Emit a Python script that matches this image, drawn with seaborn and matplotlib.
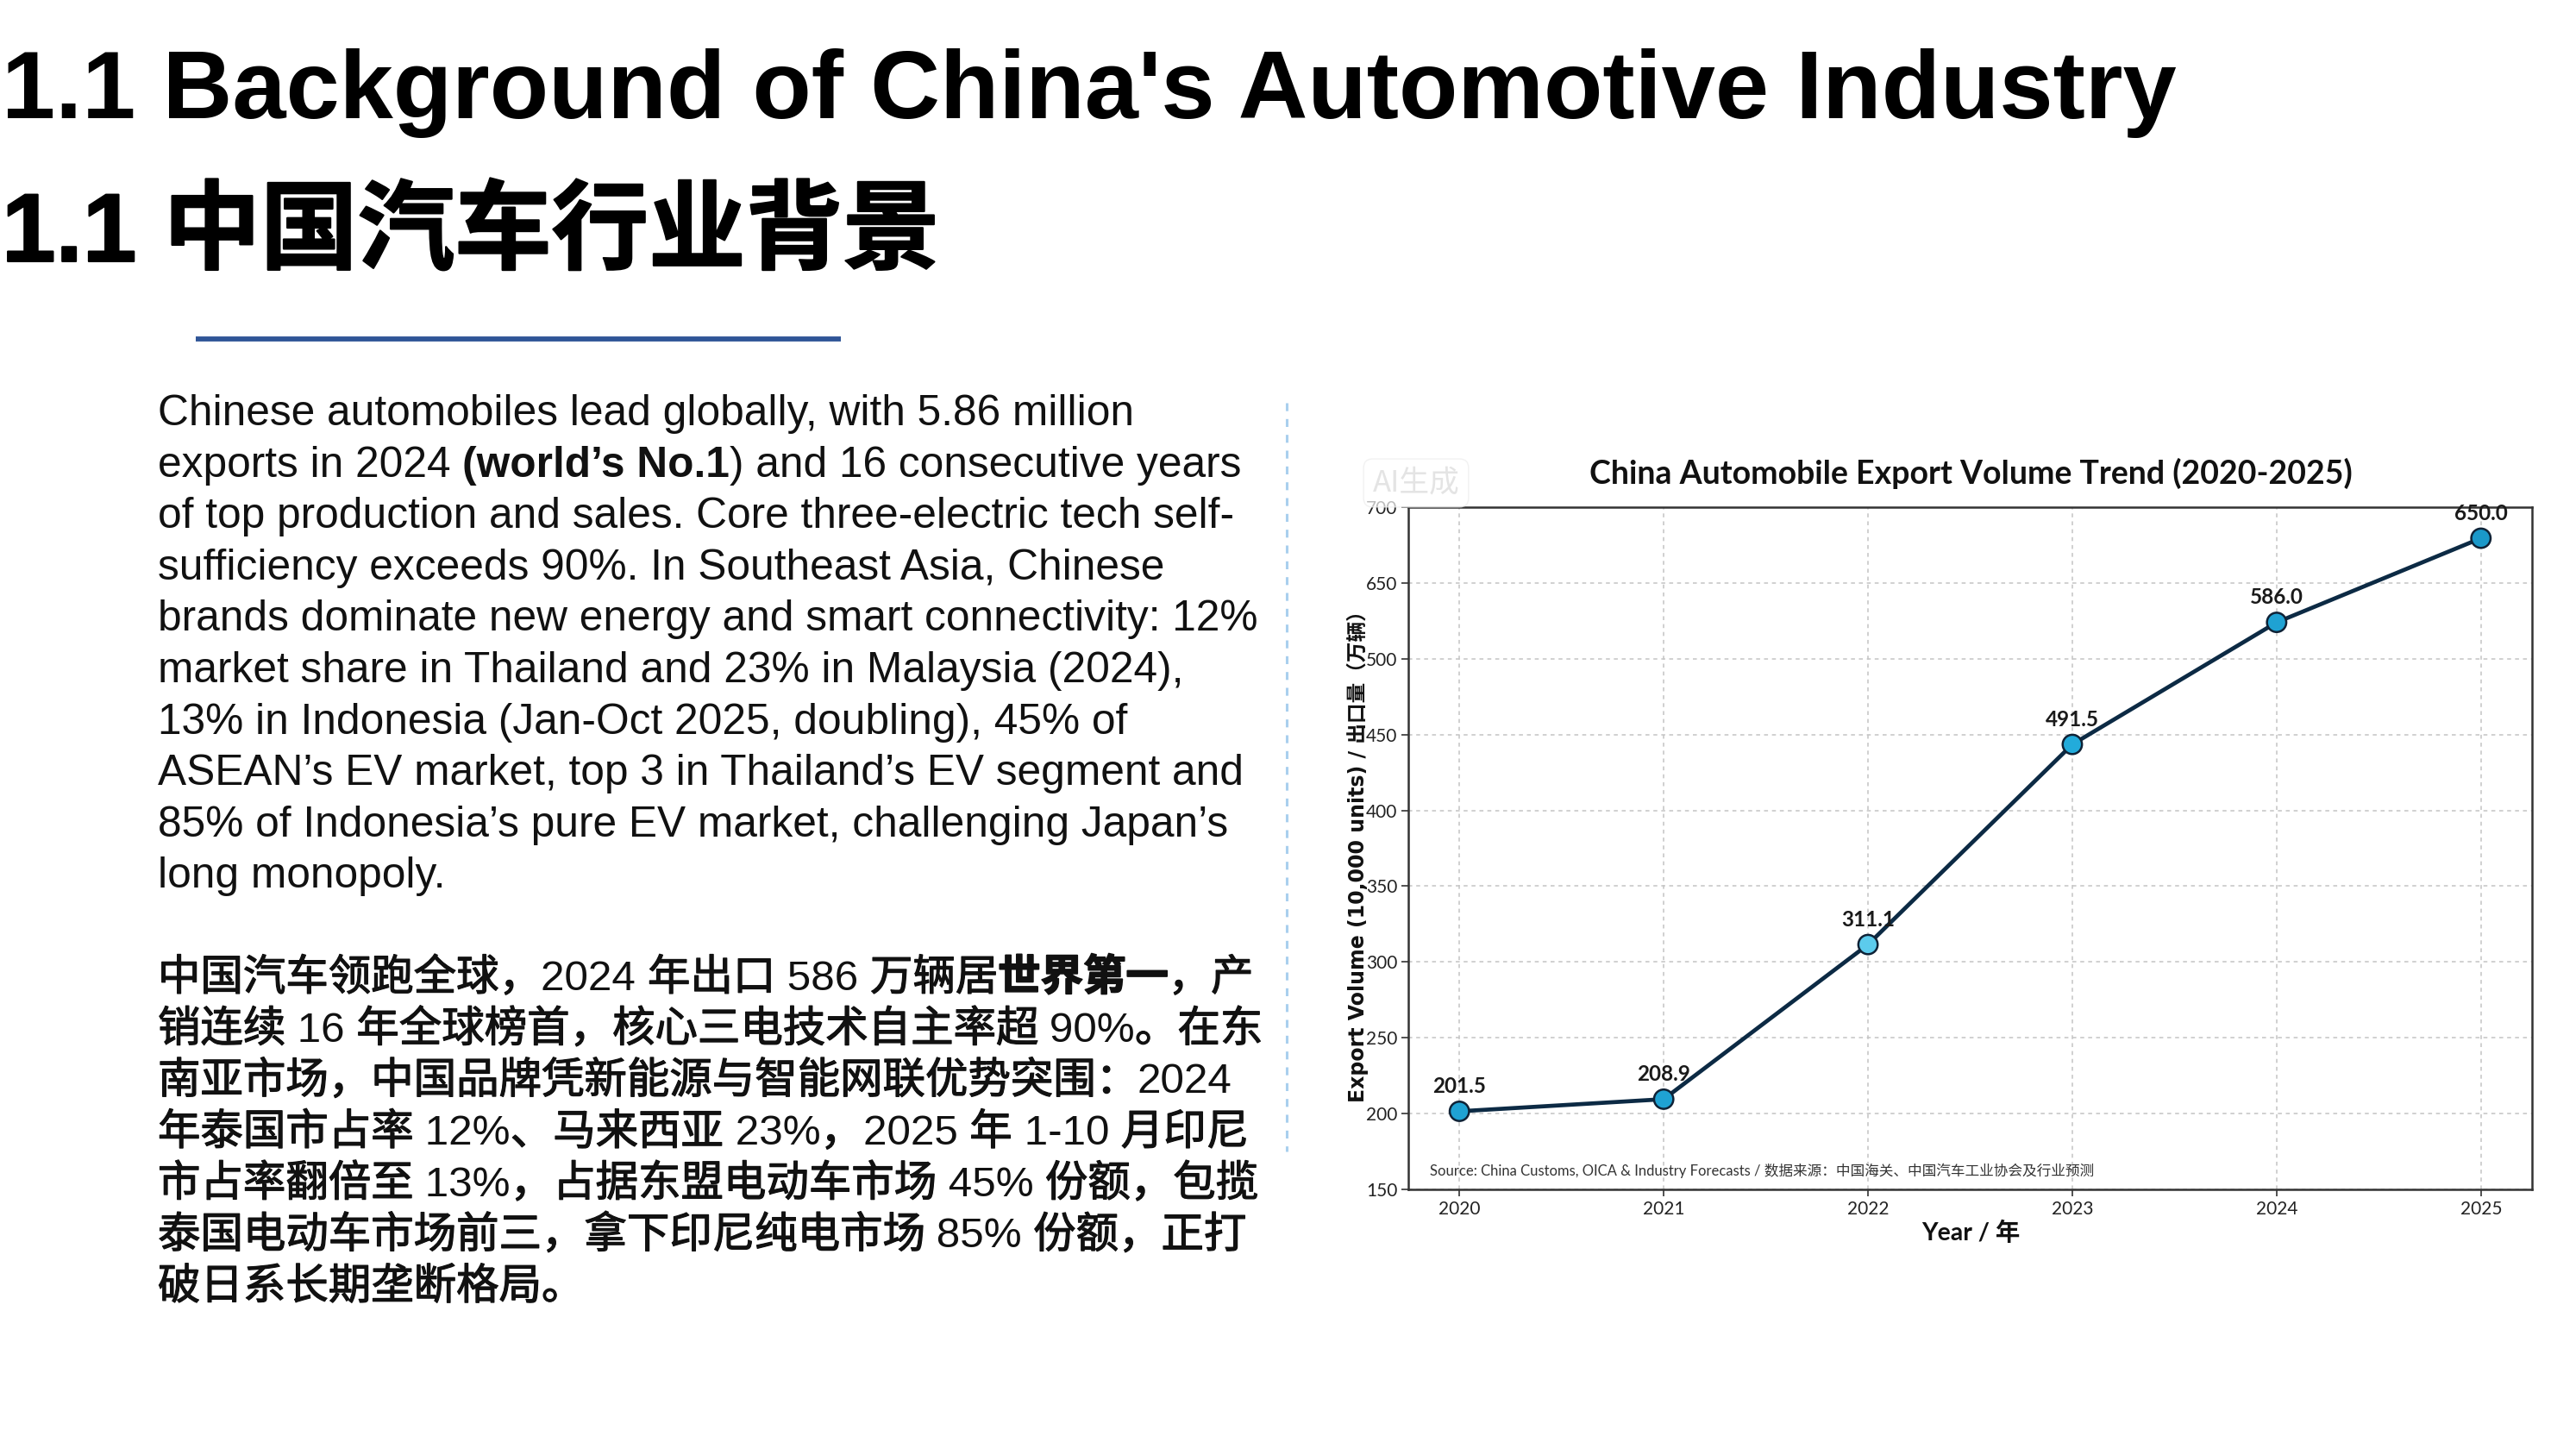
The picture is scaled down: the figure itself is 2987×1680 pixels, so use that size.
import matplotlib
matplotlib.use("Agg")
import matplotlib.pyplot as plt
import matplotlib.patheffects as pe
from matplotlib.lines import Line2D
import seaborn as sns
import pandas as pd

# canvas size in pixels (dpi 100)
W, H = 2987, 1680

# chart data (the original image uses an irregular y scale, so the plotted
# level and the printed value label are kept apart)
years = [2020, 2021, 2022, 2023, 2024, 2025]
value_labels = ["201.5", "208.9", "311.1", "491.5", "586.0", "650.0"]
plot_level = [201.5, 209.5, 311.5, 443.5, 524.0, 579.5]
marker_colors = ["#1fa2d3", "#1fa2d3", "#5ccbec", "#22abdb", "#1fa2d3", "#1a98c9"]
ytick_pos = [150, 200, 250, 300, 350, 400, 450, 500, 550, 600]
ytick_labels = ["150", "200", "250", "300", "350", "400", "450", "500", "650", "700"]

chart_title = "China Automobile Export Volume Trend (2020-2025)"
x_label = "Year / 年"
y_label = "Export Volume (10,000 units) / 出口量（万辆）"
source_note = "Source: China Customs, OICA & Industry Forecasts / 数据来源：中国海关、中国汽车工业协会及行业预测"

title_en = "1.1 Background of China's Automotive Industry"
title_cn = "1.1 中国汽车行业背景"

# paragraph lines as runs of (text, weight)
para_en = [
    [("Chinese automobiles lead globally, with 5.86 million", "normal")],
    [("exports in 2024 ", "normal"), ("(world\u2019s No.1", "bold"), (") and 16 consecutive years", "normal")],
    [("of top production and sales. Core three-electric tech self-", "normal")],
    [("sufficiency exceeds 90%. In Southeast Asia, Chinese", "normal")],
    [("brands dominate new energy and smart connectivity: 12%", "normal")],
    [("market share in Thailand and 23% in Malaysia (2024),", "normal")],
    [("13% in Indonesia (Jan-Oct 2025, doubling), 45% of", "normal")],
    [("ASEAN\u2019s EV market, top 3 in Thailand\u2019s EV segment and", "normal")],
    [("85% of Indonesia\u2019s pure EV market, challenging Japan\u2019s", "normal")],
    [("long monopoly.", "normal")],
]
para_cn = [
    [("中国汽车领跑全球，2024 年出口 586 万辆居", "normal"), ("世界第一", "bold"), ("，产", "normal")],
    [("销连续 16 年全球榜首，核心三电技术自主率超 90%。在东", "normal")],
    [("南亚市场，中国品牌凭新能源与智能网联优势突围：2024", "normal")],
    [("年泰国市占率 12%、马来西亚 23%，2025 年 1-10 月印尼", "normal")],
    [("市占率翻倍至 13%，占据东盟电动车市场 45% 份额，包揽", "normal")],
    [("泰国电动车市场前三，拿下印尼纯电市场 85% 份额，正打", "normal")],
    [("破日系长期垄断格局。", "normal")],
]

sns.set_theme(style="whitegrid")
plt.rcParams["font.family"] = ["Liberation Sans", "Noto Sans CJK SC", "DejaVu Sans"]

fig = plt.figure(figsize=(W / 100, H / 100), dpi=100)
fig.patch.set_facecolor("white")
renderer = fig.canvas.get_renderer()


def fx(px):
    return px / W


def fy(py):
    return 1 - py / H


def text_width(s, **kw):
    # width of s including trailing spaces (measured with a sentinel char)
    t1 = fig.text(0, 0, s + "x", **kw)
    t2 = fig.text(0, 0, "x", **kw)
    w = t1.get_window_extent(renderer).width - t2.get_window_extent(renderer).width
    t1.remove()
    t2.remove()
    return w


def is_cjk(ch):
    return ord(ch) >= 0x2E80


def split_script(s):
    parts = []
    for ch in s:
        if parts and is_cjk(parts[-1][-1]) == is_cjk(ch):
            parts[-1] += ch
        else:
            parts.append(ch)
    return parts


def draw_runs(x_px, y_px, runs, size, family, color="#111111"):
    # Chinese glyphs in the slide are heavier than the Latin ones,
    # so thicken them with a thin stroke
    x = x_px
    for s, weight in runs:
        for part in split_script(s):
            kw = dict(fontsize=size, fontweight=weight, family=family)
            effects = None
            if is_cjk(part[0]):
                effects = [pe.withStroke(linewidth=1.3 if weight == "bold" else 0.9,
                                         foreground=color)]
            fig.text(fx(x), fy(y_px), part, ha="left", va="baseline", color=color,
                     path_effects=effects, **kw)
            x += text_width(part, **kw)


# slide titles
body_fam = ["Liberation Sans", "Noto Sans CJK SC"]
fig.text(fx(2), fy(137), title_en, fontsize=80.6, fontweight="bold",
         family=body_fam, ha="left", va="baseline", color="#000000")
fig.text(fx(2), fy(303), title_cn, fontsize=81, fontweight="bold",
         family=body_fam, ha="left", va="baseline", color="#000000",
         path_effects=[pe.withStroke(linewidth=1.5, foreground="#000000")])

# blue rule under the titles
fig.add_artist(Line2D([fx(227), fx(975)], [fy(393), fy(393)], color="#2f5597",
                      linewidth=4.2, solid_capstyle="butt"))

# dashed separator between text and chart
fig.add_artist(Line2D([fx(1492), fx(1492)], [fy(467), fy(1335)], color="#a9cfee",
                      linewidth=2.2, linestyle=(0, (3, 3))))

# paragraphs
for i, runs in enumerate(para_en):
    draw_runs(183, 493 + i * 59.6, runs, 35.7, body_fam)
for i, runs in enumerate(para_cn):
    draw_runs(183, 1148 + i * 59.7, runs, 35.6, body_fam)

# chart
df = pd.DataFrame({"year": years, "level": plot_level, "label": value_labels})

ax_l, ax_r, ax_t, ax_b = 1633, 2936, 588, 1379
ax = fig.add_axes([fx(ax_l), fy(ax_b), (ax_r - ax_l) / W, (ax_b - ax_t) / H])
ax.set_facecolor("white")
sns.lineplot(data=df, x="year", y="level", ax=ax, color="#0c2a44",
             linewidth=3.4, zorder=3)
sns.scatterplot(data=df, x="year", y="level", hue="year",
                palette=dict(zip(years, marker_colors)), ax=ax, s=260,
                edgecolor="#0f2236", linewidth=1.8, legend=False, zorder=4)

for x, y, lab in zip(df["year"], df["level"], df["label"]):
    ax.annotate(lab, (x, y), xytext=(0, 15.5), textcoords="offset points",
                ha="center", va="baseline", fontsize=17.5, fontweight="bold",
                family="Lato", color="#1a1a1a", zorder=5)

ax.set_xlim(2019.75, 2025.25)
ax.set_ylim(150, 600)
ax.set_xticks(years)
ax.set_xticklabels([str(y) for y in years], family="Lato", fontsize=15, color="#222222")
ax.set_yticks(ytick_pos)
ax.set_yticklabels(ytick_labels, family="Lato", fontsize=15, color="#222222")
ax.tick_params(left=True, bottom=True, length=6, width=1.2, color="#333333", pad=3)
ax.grid(True, linestyle=(0, (3, 3)), color="#c4c4c4", linewidth=1.1)
for sp in ax.spines.values():
    sp.set_visible(True)
    sp.set_color("#333333")
    sp.set_linewidth(1.8)
ax.set_xlabel("")
ax.set_ylabel("")

fig.text(fx(2285), fy(561), chart_title, fontsize=27, fontweight="bold",
         family=["Lato", "Noto Sans CJK SC"], ha="center", va="baseline", color="#111111")
fig.text(fx(2285), fy(1438), x_label, fontsize=20.5, fontweight="bold",
         family=["Lato", "Noto Sans CJK SC"], ha="center", va="baseline", color="#111111")
fig.text(fx(1574), fy(987), y_label, fontsize=17, fontweight="bold", rotation=90,
         family=["DejaVu Sans", "Noto Sans CJK SC"], ha="center", va="center", color="#111111")
fig.text(fx(1658), fy(1363), source_note, fontsize=12,
         family=["Lato", "Noto Sans CJK SC"], ha="left", va="baseline", color="#333333")

# faint "AI generated" stamp at the chart corner
fig.text(fx(1642), fy(560), "AI生成", fontsize=25, color="#e4e4e4",
         family=["Noto Sans CJK SC"], ha="center", va="center", zorder=10,
         bbox=dict(boxstyle="round,pad=0.3", fc="white", ec="#ececec", alpha=0.7))

fig.savefig("out.png", dpi=100, facecolor="white")
